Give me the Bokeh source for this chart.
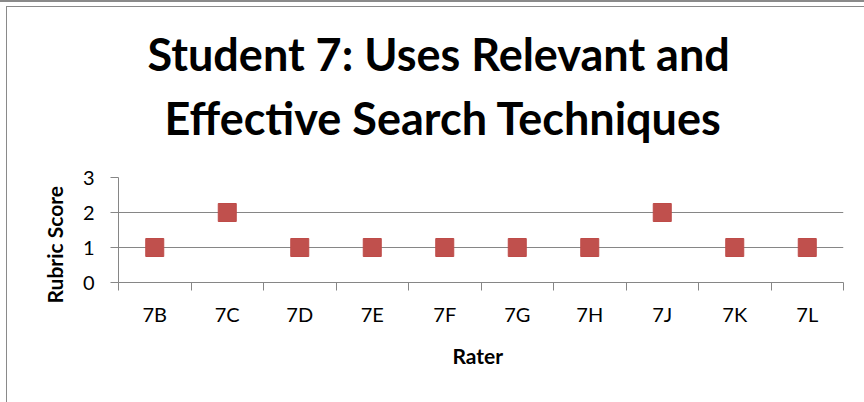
from bokeh.plotting import figure
from bokeh.models import Range1d, FixedTicker, LinearAxis, Grid, Title
from bokeh.embed import file_html
from bokeh.resources import INLINE

raters = ["7B", "7C", "7D", "7E", "7F", "7G", "7H", "7J", "7K", "7L"]
scores = [1, 2, 1, 1, 1, 1, 1, 2, 1, 1]
y_ticks = [0, 1, 2, 3]
title_lines = ["Student 7: Uses Relevant and", "Effective Search Techniques"]
x_title = "Rater"
y_title = "Rubric Score"

positions = list(range(1, len(raters) + 1))
boundaries = [i + 0.5 for i in range(len(raters) + 1)]

GRAY = "#868686"
FONT = "Lato"

border_css = {
    "background-image": ("linear-gradient(#8a8a8a,#8a8a8a), linear-gradient(#8a8a8a,#8a8a8a), "
                         "linear-gradient(#8a8a8a,#8a8a8a)"),
    "background-position": "0px 0px, 6px 6px, 6px 6px",
    "background-size": "100% 2px, 100% 1px, 1px 100%",
    "background-repeat": "no-repeat",
}

p = figure(width=864, height=402, output_backend="svg", toolbar_location=None,
           title=None,
           x_range=Range1d(0.5, len(raters) + 0.5), y_range=Range1d(0, 3),
           min_border_left=118, min_border_right=21, min_border_top=177,
           min_border_bottom=120, x_axis_type=None, y_axis_type=None,
           styles=border_css)
p.outline_line_color = None
p.background_fill_color = "white"
p.border_fill_alpha = 0

yaxis = LinearAxis(ticker=FixedTicker(ticks=y_ticks, minor_ticks=[]),
                   axis_line_color=GRAY, axis_line_width=1,
                   major_tick_line_color=GRAY, major_tick_out=8, major_tick_in=0,
                   minor_tick_out=0, minor_tick_in=0,
                   major_label_text_font=FONT, major_label_text_font_size="20px",
                   major_label_text_color="black", major_label_standoff=16)
p.add_layout(yaxis, "left")
p.add_layout(Grid(dimension=1, ticker=yaxis.ticker, grid_line_color=GRAY,
                  grid_line_width=1))

xaxis = LinearAxis(ticker=FixedTicker(ticks=positions, minor_ticks=boundaries),
                   major_label_overrides={pos: r for pos, r in zip(positions, raters)},
                   axis_line_color=GRAY, axis_line_width=1,
                   major_tick_out=0, major_tick_in=0,
                   minor_tick_out=8, minor_tick_in=0, minor_tick_line_color=GRAY,
                   major_label_text_font=FONT, major_label_text_font_size="20px",
                   major_label_text_color="black", major_label_standoff=11)
p.add_layout(xaxis, "below")

p.scatter(positions, scores, marker="square", size=18,
          fill_color="#C0504D", line_color="#BE4B48", line_width=1)

# title: second line first (closest to the plot), then first line
p.add_layout(Title(text=title_lines[1], align="left", offset=46, standoff=62,
                   vertical_align="top", text_font=FONT, text_font_style="bold",
                   text_font_size="45px", text_color="black"), "above")
p.add_layout(Title(text=title_lines[0], align="left", offset=29, standoff=-42,
                   vertical_align="bottom", text_font=FONT, text_font_style="bold",
                   text_font_size="45px", text_color="black"), "above")

p.add_layout(Title(text=y_title, align="left", offset=-21, standoff=26,
                   vertical_align="bottom", text_font=FONT, text_font_style="bold",
                   text_font_size="21px", text_color="black"), "left")
p.add_layout(Title(text=x_title, align="left", offset=334, standoff=28,
                   vertical_align="top", text_font=FONT, text_font_style="bold",
                   text_font_size="21px", text_color="black"), "below")

open("out.html", "w").write(file_html(p, INLINE))
